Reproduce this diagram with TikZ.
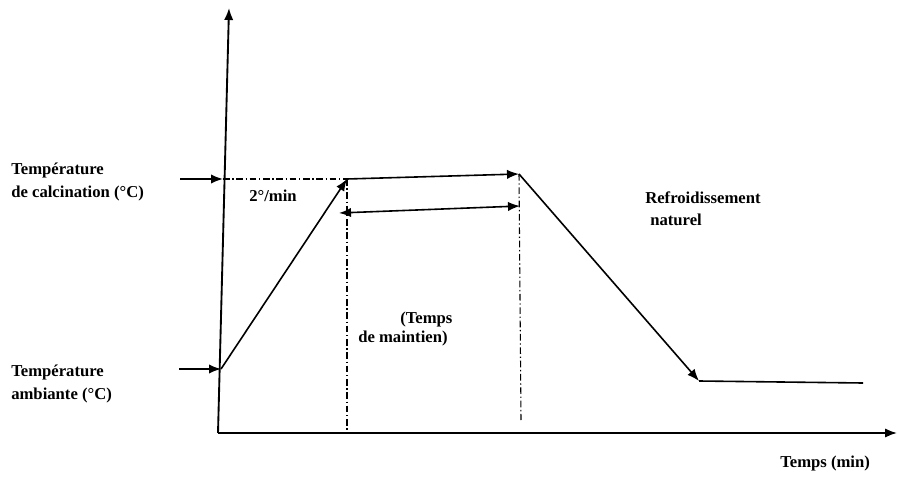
\documentclass[tikz,border=0pt]{standalone}
\usepackage{fontspec}
\setmainfont{Liberation Serif}
\usetikzlibrary{arrows.meta}
\begin{document}
\begin{tikzpicture}[x=0.75pt,y=-0.75pt,
  lbl/.style={anchor=base west,inner sep=0pt,font=\fontsize{12.5}{15}\selectfont\bfseries},
  axis/.style={line width=1.4pt,-{Latex[length=9pt,width=7pt]}},
  curve/.style={line width=1.2pt,-{Latex[length=9pt,width=7pt]}},
  guide/.style={line width=0.8pt,dash pattern=on 5pt off 2pt on 1pt off 2pt}]
\useasboundingbox (0,0) rectangle (898,477);
% points
\coordinate (O) at (218,433);
\coordinate (Ytop) at (229,8);
\coordinate (Xend) at (897,433);
\coordinate (Ya) at (221,369);
\coordinate (Yc) at (223,179);
\coordinate (Ainc) at (179,369);
\coordinate (Cinc) at (180,179);
\coordinate (P1) at (347,179);
\coordinate (P2) at (519,174);
\coordinate (P3) at (699,381);
\coordinate (P4) at (863,383);
\coordinate (D1) at (339,213);
\coordinate (D2) at (520,206);
\coordinate (V1) at (347,430);
\coordinate (V2) at (521,420);
% axes
\draw[axis] (O) -- (Ytop);
\draw[axis] (O) -- (Xend);
% input arrows
\draw[curve] (Cinc) -- (Yc);
\draw[curve] (Ainc) -- (Ya);
% guides
\draw[guide] (Yc) -- (P1);
\draw[guide] (P1) -- (V1);
\draw[guide] (P2) -- (V2);
% profile
\draw[curve] (Ya) -- (P1);
\draw[curve] (P1) -- (P2);
\draw[curve] (P2) -- (P3);
\draw[line width=1.2pt] (P3) -- (P4);
% holding time
\draw[line width=1.2pt,{Latex[length=9pt,width=7pt]}-{Latex[length=9pt,width=7pt]}] (D1) -- (D2);
% labels
\node[lbl] (tc1) at (11,175) {Température};
\node[lbl] (tc2) at (11,198) {de calcination (°C)};
\node[lbl] (ta1) at (11,376) {Température};
\node[lbl] (ta2) at (11,399) {ambiante (°C)};
\node[lbl] (rate) at (249,201) {2°/min};
\node[lbl] (tm1) at (400,323) {(Temps};
\node[lbl] (tm2) at (358,342) {de maintien)};
\node[lbl] (rf1) at (645,204) {Refroidissement};
\node[lbl] (rf2) at (650,225) {naturel};
\node[lbl] (tx) at (780,467) {Temps (min)};
\end{tikzpicture}
\end{document}
